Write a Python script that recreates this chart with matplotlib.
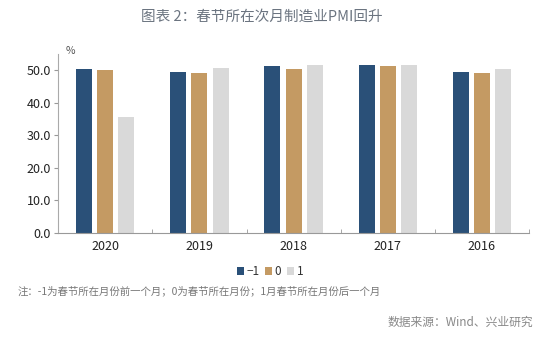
import numpy as np
import matplotlib
matplotlib.use("Agg")
from matplotlib import pyplot as plt

plt.rcParams['font.family'] = ['Noto Sans CJK SC', 'DejaVu Sans']

years = ["2020", "2019", "2018", "2017", "2016"]
series_names = ["−1", "0", "1"]
pmi_before = [50.2, 49.5, 51.3, 51.4, 49.4]
pmi_month = [50.0, 49.2, 50.3, 51.3, 49.0]
pmi_after = [35.7, 50.5, 51.5, 51.6, 50.2]
colors = ["#2a5078", "#c49a63", "#d9d9d9"]

fig = plt.figure(figsize=(5.54, 3.38), dpi=100)
ax = fig.add_axes([0.105, 0.311, 0.85, 0.53])

x = np.arange(len(years))
width = 0.17
step = 0.225
for i, (vals, name) in enumerate(zip([pmi_before, pmi_month, pmi_after], series_names)):
    ax.bar(x + (i - 1) * step, vals, width, color=colors[i], label=name)

ax.set_xlim(-0.5, len(years) - 0.5)
ax.set_ylim(0, 55)
ax.set_yticks([0, 10, 20, 30, 40, 50])
ax.set_yticklabels([f"{v:.1f}" for v in [0, 10, 20, 30, 40, 50]], fontsize=9, color="#222222")
ax.set_xticks(x)
ax.set_xticklabels(years, fontsize=9, color="#222222")
ax.set_xticks(np.arange(len(years) + 1) - 0.5, minor=True)
ax.tick_params(axis='x', which='major', length=0, pad=5)
ax.tick_params(axis='x', which='minor', length=3, direction='in', color="#999999")
ax.tick_params(axis='y', length=3, color="#999999", pad=2)

for side in ["top", "right"]:
    ax.spines[side].set_visible(False)
ax.spines["left"].set_color("#aaaaaa")
ax.spines["bottom"].set_color("#999999")

ax.text(0.015, 0.99, "%", transform=ax.transAxes, fontsize=7.5, color="#555555",
        ha="left", va="bottom")

ax.legend(loc="upper center", bbox_to_anchor=(0.45, -0.12), ncol=3, frameon=False,
          fontsize=8.5, handlelength=0.6, handleheight=0.6, handletextpad=0.2,
          columnspacing=0.5, labelcolor="#333333")

fig.text(0.472, 0.95, "图表 2：春节所在次月制造业PMI回升", ha="center", va="center",
         fontsize=10.5, color="#6b7480")
fig.text(0.032, 0.14, "注：-1为春节所在月份前一个月；0为春节所在月份；1月春节所在月份后一个月",
         ha="left", va="center", fontsize=7.5, color="#777777")
fig.text(0.963, 0.045, "数据来源：Wind、兴业研究", ha="right", va="center",
         fontsize=8.5, color="#888888")

fig.savefig("out.png", dpi=100)
